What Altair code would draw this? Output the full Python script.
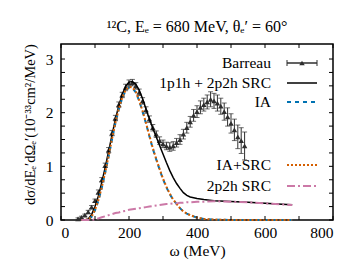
import altair as alt
import pandas as pd

# ---------------- data ----------------
omega_data = list(range(50, 550, 10))
sigma_data = [0.02, 0.05, 0.09, 0.15, 0.24, 0.36, 0.52, 0.75, 1.02, 1.30,
              1.62, 1.90, 2.15, 2.33, 2.47, 2.55, 2.56, 2.50, 2.38, 2.22,
              2.05, 1.88, 1.72, 1.60, 1.48, 1.42, 1.38, 1.36, 1.38, 1.44,
              1.50, 1.60, 1.72, 1.83, 1.95, 2.02, 2.10, 2.15, 2.20, 2.25,
              2.22, 2.18, 2.12, 2.02, 1.92, 1.80, 1.68, 1.55, 1.48, 1.38]
err_data = [0.02, 0.02, 0.02, 0.03, 0.03, 0.03, 0.04, 0.04, 0.04, 0.05,
            0.05, 0.05, 0.05, 0.05, 0.06, 0.06, 0.06, 0.06, 0.06, 0.06,
            0.06, 0.06, 0.06, 0.06, 0.07, 0.07, 0.07, 0.08, 0.08, 0.08,
            0.09, 0.09, 0.10, 0.10, 0.11, 0.11, 0.12, 0.12, 0.13, 0.14,
            0.14, 0.15, 0.15, 0.16, 0.17, 0.18, 0.20, 0.22, 0.24, 0.26]

omega_th = [60, 70, 80, 90, 100, 110, 120, 130, 140, 150,
            160, 170, 180, 190, 200, 210, 220, 230, 240, 250,
            260, 270, 280, 290, 300, 310, 320, 330, 340, 350,
            360, 370, 380, 400, 420, 450, 500, 550, 600, 650, 680]
total_th = [0, 0, 0.02, 0.1, 0.25, 0.45, 0.7, 0.98, 1.28, 1.58,
            1.88, 2.13, 2.34, 2.49, 2.57, 2.58, 2.53, 2.42, 2.26, 2.07,
            1.88, 1.71, 1.55, 1.39, 1.23, 1.07, 0.92, 0.79, 0.68, 0.59,
            0.51, 0.46, 0.43, 0.40, 0.38, 0.36, 0.345, 0.33, 0.31, 0.295, 0.285]
ia_th = [0, 0, 0.01, 0.06, 0.18, 0.36, 0.6, 0.88, 1.18, 1.5,
         1.8, 2.06, 2.27, 2.41, 2.47, 2.46, 2.38, 2.22, 2.02, 1.8,
         1.56, 1.33, 1.13, 0.94, 0.76, 0.61, 0.48, 0.38, 0.30, 0.22,
         0.16, 0.12, 0.09, 0.045, 0.02, 0.008, 0.0, 0.0, 0.0, 0.0, 0.0]
iasrc_th = [0, 0, 0.01, 0.06, 0.19, 0.37, 0.61, 0.89, 1.19, 1.51,
            1.81, 2.07, 2.28, 2.42, 2.48, 2.47, 2.39, 2.23, 2.03, 1.81,
            1.57, 1.34, 1.14, 0.95, 0.77, 0.62, 0.49, 0.38, 0.30, 0.22,
            0.16, 0.12, 0.09, 0.045, 0.02, 0.008, 0.0, 0.0, 0.0, 0.0, 0.0]
tp_th = [0, 0, 0, 0, 0.01, 0.03, 0.05, 0.07, 0.09, 0.11,
         0.13, 0.14, 0.16, 0.17, 0.19, 0.2, 0.21, 0.22, 0.23, 0.24,
         0.25, 0.26, 0.27, 0.28, 0.29, 0.30, 0.30, 0.31, 0.31, 0.32,
         0.32, 0.33, 0.33, 0.34, 0.34, 0.35, 0.34, 0.33, 0.31, 0.29, 0.28]

x_ticks = list(range(0, 900, 100))
y_ticks = [0, 0.25, 0.5, 0.75, 1, 1.25, 1.5, 1.75, 2, 2.25, 2.5, 2.75, 3]
x_labels = [0, 200, 400, 600, 800]
y_labels = [0, 0.5, 1, 1.5, 2, 2.5, 3]

legend_labels = ["Barreau", "1p1h + 2p2h SRC", "IA", "IA+SRC", "2p2h SRC"]

# ---------------- build ----------------
W, H = 272, 176
FONT = "Liberation Serif"
FS = 15.5
C_DATA = "#2e2e2e"
C_IA = "#0072B2"
C_IASRC = "#D55E00"
C_2P2H = "#CC79A7"

xs = alt.Scale(domain=[0, 800], nice=False)
ys = alt.Scale(domain=[0, 3.28], nice=False)

df = pd.DataFrame({"w": omega_data, "s": sigma_data, "e": err_data})
df["lo"] = df["s"] - df["e"]
df["hi"] = df["s"] + df["e"]
th = pd.DataFrame({"w": omega_th, "tot": total_th, "ia": ia_th,
                   "iasrc": iasrc_th, "tp": tp_th})

X = alt.X("w:Q", scale=xs,
          axis=alt.Axis(values=x_labels, title="ω (MeV)", ticks=False, domain=False,
                        grid=False, labelPadding=5, titlePadding=3, labelFont=FONT,
                        labelFontSize=FS, titleFont=FONT, titleFontSize=FS,
                        titleFontWeight="normal", labelColor="black", titleColor="black"))

base_y_axis = alt.Axis(values=y_labels, title="dσ/dEₑ′dΩₑ′(10⁻³³cm²/MeV)",
                       ticks=False, domain=False, grid=False, labelPadding=8,
                       titlePadding=8, labelFont=FONT, labelFontSize=FS,
                       titleFont=FONT, titleFontSize=14.5, titleFontWeight="normal",
                       labelColor="black", titleColor="black", format="~g", titleY=80)

err_rules = alt.Chart(df).mark_rule(color=C_DATA, strokeWidth=1).encode(
    x=X, y=alt.Y("lo:Q", scale=ys, axis=base_y_axis), y2="hi:Q")
cap_lo = alt.Chart(df).mark_tick(color=C_DATA, orient="horizontal", size=5, thickness=1).encode(
    x="w:Q", y=alt.Y("lo:Q", scale=ys))
cap_hi = alt.Chart(df).mark_tick(color=C_DATA, orient="horizontal", size=5, thickness=1).encode(
    x="w:Q", y=alt.Y("hi:Q", scale=ys))
pts = alt.Chart(df).mark_point(shape="triangle-up", filled=True, color=C_DATA,
                               size=30, opacity=1).encode(
    x="w:Q", y=alt.Y("s:Q", scale=ys))

def curve(field, color, dash, width):
    kw = dict(color=color, strokeWidth=width)
    if dash:
        kw["strokeDash"] = dash
    return alt.Chart(th).mark_line(**kw).encode(
        x="w:Q", y=alt.Y(f"{field}:Q", scale=ys))

l_tot = curve("tot", "black", None, 1.5)
l_ia = curve("ia", C_IA, [4, 4], 2)
l_iasrc = curve("iasrc", C_IASRC, [2, 2], 2)
l_tp = curve("tp", C_2P2H, [8, 3, 2, 3], 2)

# inner ticks on all four sides
tx = pd.DataFrame({"t": x_ticks})
ty = pd.DataFrame({"t": y_ticks})
tick_b = alt.Chart(tx).mark_rule(color="black", strokeWidth=1).encode(
    x=alt.X("t:Q", scale=xs), y=alt.value(H), y2=alt.value(H - 4))
tick_t = alt.Chart(tx).mark_rule(color="black", strokeWidth=1).encode(
    x=alt.X("t:Q", scale=xs), y=alt.value(0), y2=alt.value(4))
tick_l = alt.Chart(ty).mark_rule(color="black", strokeWidth=1).encode(
    y=alt.Y("t:Q", scale=ys), x=alt.value(0), x2=alt.value(4))
tick_r = alt.Chart(ty).mark_rule(color="black", strokeWidth=1).encode(
    y=alt.Y("t:Q", scale=ys), x=alt.value(W), x2=alt.value(W - 4))

# legend
one = alt.Data(values=[{"a": 0}])
LX1, LX2, TX = 226, 256, 210
rows = [19, 39, 58, 121, 142]
leg = []
for lab, yy in zip(legend_labels, rows):
    leg.append(alt.Chart(one).mark_text(text=lab, align="right", baseline="middle",
                                        font=FONT, fontSize=FS, color="black").encode(
        x=alt.value(TX), y=alt.value(yy)))
leg.append(alt.Chart(one).mark_rule(color=C_DATA, strokeWidth=1.5).encode(
    x=alt.value(LX1), x2=alt.value(LX2), y=alt.value(rows[0])))
leg.append(alt.Chart(one).mark_rule(color=C_DATA, strokeWidth=1).encode(
    x=alt.value(LX1), y=alt.value(rows[0] - 3), y2=alt.value(rows[0] + 3)))
leg.append(alt.Chart(one).mark_rule(color=C_DATA, strokeWidth=1).encode(
    x=alt.value(LX2), y=alt.value(rows[0] - 3), y2=alt.value(rows[0] + 3)))
leg.append(alt.Chart(one).mark_point(shape="triangle-up", filled=True, color=C_DATA,
                                     size=30, opacity=1).encode(
    x=alt.value((LX1 + LX2) / 2), y=alt.value(rows[0])))
for yy, col, dash, wdt in [(rows[1], "black", None, 1.5), (rows[2], C_IA, [4, 4], 2),
                           (rows[3], C_IASRC, [2, 2], 2), (rows[4], C_2P2H, [8, 3, 2, 3], 2)]:
    kw = dict(color=col, strokeWidth=wdt)
    if dash:
        kw["strokeDash"] = dash
    leg.append(alt.Chart(one).mark_rule(**kw).encode(
        x=alt.value(LX1), x2=alt.value(LX2), y=alt.value(yy)))

chart = alt.layer(
    err_rules, cap_lo, cap_hi, pts, l_tot, l_ia, l_iasrc, l_tp,
    tick_b, tick_t, tick_l, tick_r, *leg
).properties(
    width=W, height=H,
    title=alt.TitleParams("¹²C, Eₑ = 680 MeV, θₑ′ = 60°", font=FONT, fontSize=16,
                          fontWeight="normal", color="black", offset=9, anchor="middle"),
    autosize=alt.AutoSizeParams(type="none"),
    padding={"left": 53, "top": 36, "right": 12, "bottom": 44},
).configure_view(stroke="black", strokeWidth=1.5)

chart.save("out.html", embed_options={"renderer": "svg", "actions": False})
